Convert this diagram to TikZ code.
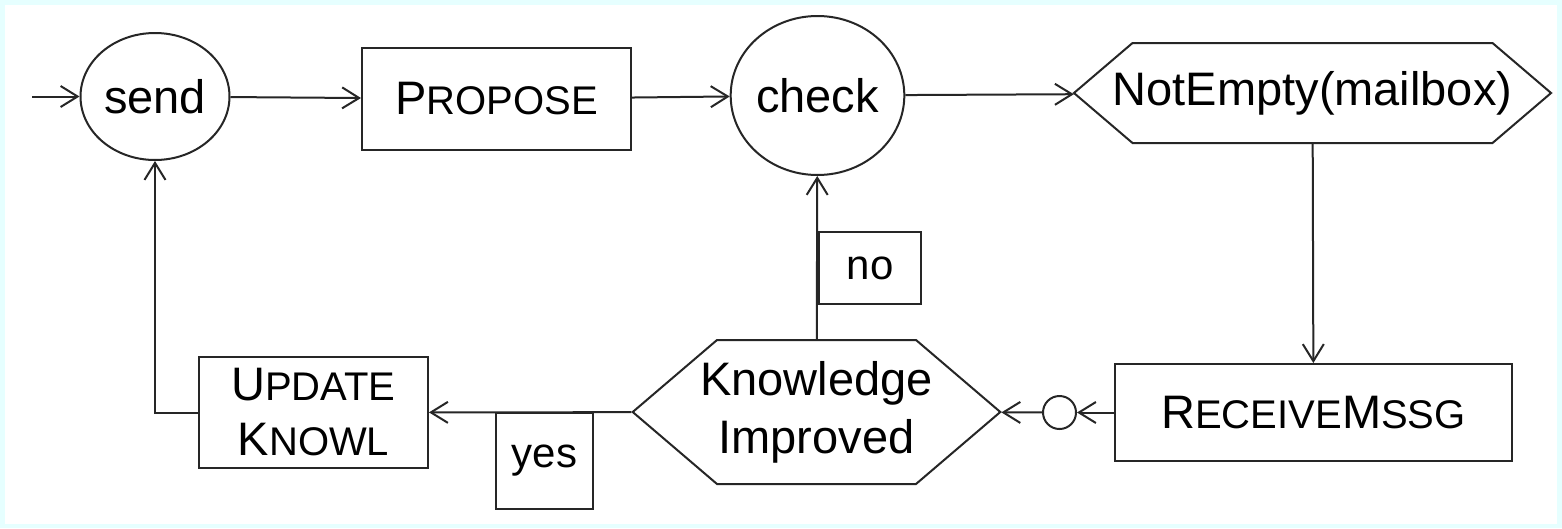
\documentclass[tikz,border=0pt]{standalone}
\usepackage{fontspec}
\setmainfont{Liberation Sans}
\usepackage{tikz}
\usetikzlibrary{arrows.meta,shapes.geometric,shapes.symbols}
\definecolor{bgcyan}{RGB}{230,255,255}
\newcommand\smc[1]{{\fontsize{40}{48}\selectfont #1}}

\begin{document}
\begin{tikzpicture}[x=1pt,y=-1pt,line width=2pt,draw=black!85,font=\fontsize{47}{56}\selectfont,
arr/.style={-{Straight Barb[length=17pt,width=21pt]}},
oval/.style n args={2}{ellipse,draw,inner sep=0pt,minimum width=#1pt,minimum height=#2pt},
box/.style n args={2}{rectangle,draw,inner sep=0pt,minimum width=#1pt,minimum height=#2pt},
hex/.style={signal,signal to=east and west,signal pointer angle=81,draw,inner sep=0pt,minimum height=#1pt},
lbl/.style n args={2}{box={#1}{#2},font=\fontsize{42}{50}\selectfont}]
\fill[bgcyan] (0,0) rectangle (1562,528);
\fill[white] (5,5) rectangle (1557,524);
\useasboundingbox (0,0) rectangle (1562,528);
\coordinate (entry) at (32,96.5);
\node[oval={149}{127}] (send) at (155,96.5) {send};
\node[box={269}{102}] (propose) at (496.5,99) {P\smc{ROPOSE}};
\node[oval={171}{159}] (check) at (817.5,95.5) {check};
\node[hex=100] (notempty) at (1312.5,93) {\makebox[360pt]{NotEmpty(mailbox)}};
\node[box={397}{97}] (receive) at (1313.5,412.5) {R\smc{ECEIVE}M\smc{SSG}};
\node[circle,draw,inner sep=0pt,minimum size=33pt] (junct) at (1059.5,412.5) {};
\node[hex=144,align=center,font=\fontsize{47}{58}\selectfont] (improved) at (816.5,412)
   {\makebox[199pt]{Knowledge}\\\makebox[199pt]{Improved}};
\node[box={229}{111},align=center,font=\fontsize{47}{55}\selectfont] (update) at (313.5,412.5)
   {U\smc{PDATE}\\K\smc{NOWL}};
\node[lbl={97}{96}] (yes) at (544.5,461) {yes};
\node[lbl={102}{72}] (no) at (870,268) {no};
\draw[arr] (entry) -- (send);
\draw[arr] (send) -- (propose);
\draw[arr] (propose) -- (check);
\draw[arr] (check) -- (notempty);
\draw[arr] (notempty) -- (receive);
\draw[arr] (receive) -- (junct);
\draw[arr] (junct) -- (improved);
\draw[arr] (improved) -- (update);
\draw[arr] (improved) -- (check);
\draw[arr] (update.west) -| (send.south);
\end{tikzpicture}
\end{document}
